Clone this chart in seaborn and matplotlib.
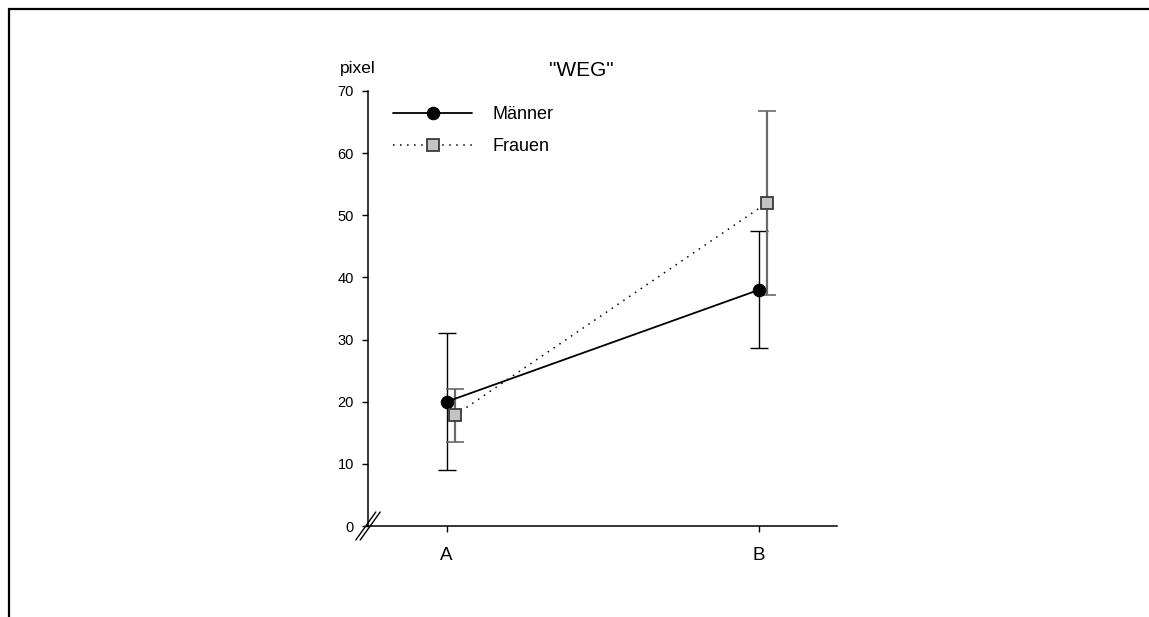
import matplotlib
matplotlib.use("Agg")
import matplotlib.pyplot as plt
from matplotlib.lines import Line2D
import numpy as np
import pandas as pd
import seaborn as sns

# ---- data ----
categories = ["A", "B"]
maenner_mean = [20.0, 38.0]
maenner_err = [11.0, 9.4]
frauen_mean = [17.8, 52.0]
frauen_err = [4.3, 14.8]
yticks = [0, 10, 20, 30, 40, 50, 60, 70]
title = '"WEG"'
ylabel = "pixel"
series_names = ["Männer", "Frauen"]

sns.set_style("ticks")
plt.rcParams["font.family"] = ["Liberation Sans", "DejaVu Sans"]
plt.rcParams["text.color"] = "black"
plt.rcParams["xtick.color"] = "black"
plt.rcParams["ytick.color"] = "black"
plt.rcParams["axes.labelcolor"] = "black"

fig = plt.figure(figsize=(11.49, 6.17), dpi=100)
ax = fig.add_axes([368 / 1149, 1 - 526 / 617, (837 - 368) / 1149, (526 - 91) / 617])

pos = np.arange(len(categories))
offset = 0.026
df_m = pd.DataFrame({"x": pos, "y": maenner_mean, "err": maenner_err})
df_f = pd.DataFrame({"x": pos + offset, "y": frauen_mean, "err": frauen_err})

# error bars
ax.errorbar(df_m["x"], df_m["y"], yerr=df_m["err"], fmt="none", ecolor="black",
            elinewidth=1.0, capsize=6.5, capthick=1.0, zorder=2)
ax.errorbar(df_f["x"], df_f["y"], yerr=df_f["err"], fmt="none", ecolor="#6a6a6a",
            elinewidth=1.6, capsize=6.5, capthick=1.2, zorder=2)

# lines with markers
sns.lineplot(data=df_m, x="x", y="y", ax=ax, color="black", linewidth=1.3,
             marker="o", markersize=9, markerfacecolor="black",
             markeredgecolor="black", label=series_names[0], zorder=4)
sns.lineplot(data=df_f, x="x", y="y", ax=ax, color="black", linewidth=1.1,
             linestyle=(0, (1, 3.6)), marker="s", markersize=8,
             markerfacecolor="#c4c4c4", markeredgecolor="#3a3a3a",
             markeredgewidth=1.3, label=series_names[1], zorder=4)

ax.set_xlim(-0.252, 1.25)
ax.set_ylim(0, 70)
ax.set_xticks(pos)
ax.set_xticklabels(categories)
ax.set_yticks(yticks)
ax.set_xlabel("")
ax.set_ylabel("")
ax.tick_params(axis="x", length=4, width=1, pad=11, labelsize=13.5, colors="black")
ax.tick_params(axis="y", length=4, width=1, pad=6, labelsize=10.5, colors="black")
for s in ["top", "right"]:
    ax.spines[s].set_visible(False)
for s in ["left", "bottom"]:
    ax.spines[s].set_linewidth(1.1)
    ax.spines[s].set_color("black")

# axis break mark at origin
W = 837 - 368
H = 526 - 91
for dxp in (-2.2, 2.2):
    ax.plot([(dxp - 10) / W, (dxp + 10) / W], [-14 / H, 14 / H],
            transform=ax.transAxes, color="black", lw=1.0, clip_on=False, zorder=5)

# title and y label
fig.text(581 / 1149, 1 - 71 / 617, title, ha="center", va="center", fontsize=15)
fig.text(358 / 1149, 1 - 68 / 617, ylabel, ha="center", va="center", fontsize=12.5)

# legend
leg = ax.legend(loc="upper left", bbox_to_anchor=(25 / W, 1 - 15 / H), frameon=False,
                fontsize=13, handlelength=4.4, handletextpad=1.1,
                labelspacing=0.85, borderpad=0, borderaxespad=0)
for t in leg.get_texts():
    t.set_color("black")

# figure frame (top and left)
fig.add_artist(Line2D([8.5 / 1149, 8.5 / 1149], [0, 1 - 8.5 / 617],
                      transform=fig.transFigure, color="black", lw=1.6))
fig.add_artist(Line2D([8.5 / 1149, 1], [1 - 8.5 / 617, 1 - 8.5 / 617],
                      transform=fig.transFigure, color="black", lw=1.6))

fig.savefig("out.png", dpi=100, facecolor="white")
